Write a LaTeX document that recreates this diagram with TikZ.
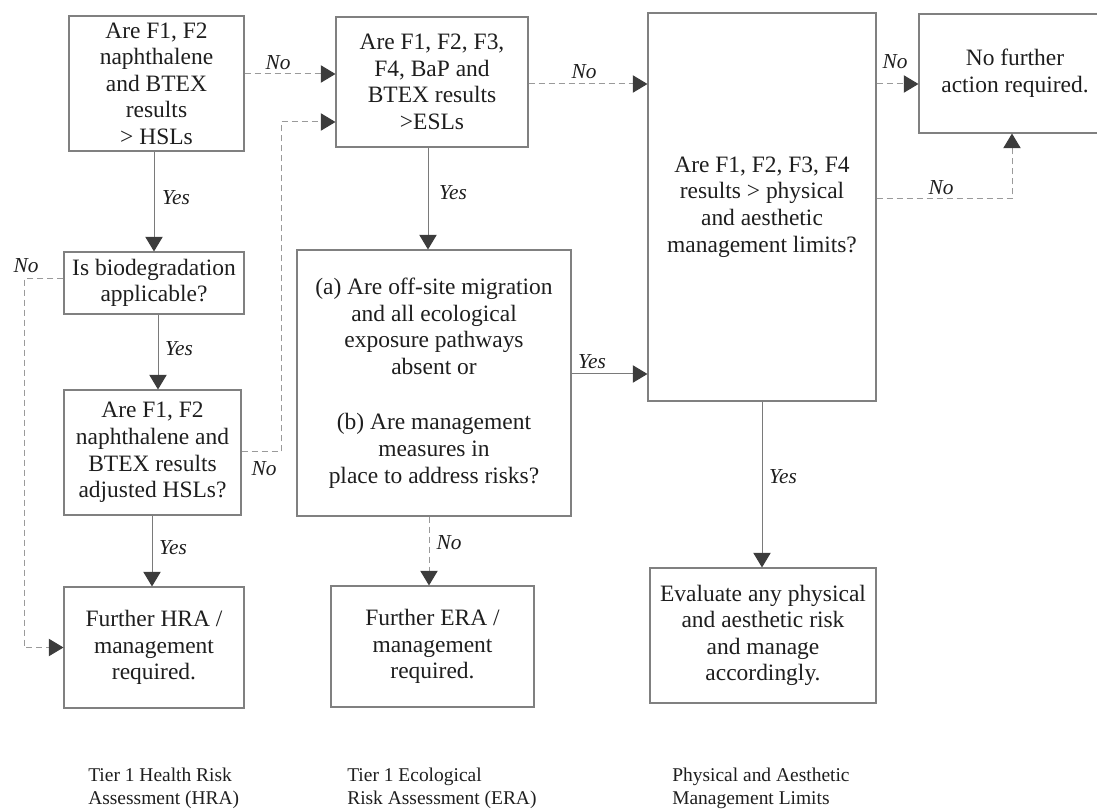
\documentclass[tikz,border=0pt]{standalone}
\usepackage{fontspec}
\setmainfont{Liberation Serif}
\usetikzlibrary{arrows.meta}
\definecolor{boxc}{HTML}{808080}
\definecolor{linec}{HTML}{7A7A7A}
\definecolor{dashc}{HTML}{9A9A9A}
\definecolor{headc}{HTML}{3C3C3C}
\definecolor{txtc}{HTML}{1E1E1E}
\begin{document}
\begin{tikzpicture}[x=0.75pt,y=-0.75pt,
  box/.style={draw=boxc,line width=0.8pt,align=center,text=txtc,inner sep=0pt,
    font=\fontsize{17.6}{19.9}\selectfont},
  sol/.style={draw=linec,line width=0.75pt,-{Triangle[width=13pt,length=11pt,color=headc]}},
  dsh/.style={draw=dashc,line width=0.75pt,dash pattern=on 4.5pt off 3pt,-{Triangle[width=13pt,length=11pt,color=headc]}},
  lab/.style={font=\itshape\fontsize{16}{18}\selectfont,text=txtc,inner sep=0pt},
  tier/.style={font=\fontsize{14.6}{17.25}\selectfont,text=txtc,align=left,anchor=west,inner sep=0pt}]
\useasboundingbox (0,0) rectangle (1097,809);

% boxes
\node[box,minimum width=131.25pt,minimum height=101.25pt] (A) at (156.5,83.5) {Are F1, F2\\naphthalene\\and BTEX\\results\\> HSLs};
\node[box,minimum width=135pt,minimum height=46.5pt] (B) at (154,283) {Is biodegradation\\applicable?};
\node[box,minimum width=132.75pt,minimum height=93.75pt] (C) at (152.5,452.5) {Are F1, F2\\naphthalene and\\BTEX results\\adjusted HSLs?};
\node[box,minimum width=135pt,minimum height=90.75pt] (D) at (154,647.5) {Further HRA /\\management\\required.};
\node[box,minimum width=144pt,minimum height=97.5pt] (E) at (432,82) {Are F1, F2, F3,\\F4, BaP and\\BTEX results\\>ESLs};
\node[box,minimum width=205.5pt,minimum height=199.5pt] (F) at (434,383) {(a) Are off-site migration\\and all ecological\\exposure pathways\\absent or\\[22pt](b) Are management\\measures in\\place to address risks?};
\node[box,minimum width=152.25pt,minimum height=90.75pt] (ERA) at (432.5,646.5) {Further ERA /\\management\\required.};
\node[box,minimum width=171pt,minimum height=291pt] (G) at (762,207) {Are F1, F2, F3, F4\\results > physical\\and aesthetic\\management limits?};
\node[box,minimum width=169.5pt,minimum height=101.25pt] (Ev) at (763,635.5) {Evaluate any physical\\and aesthetic risk\\and manage\\accordingly.};
\node[box,minimum width=144pt,minimum height=89.25pt] (H) at (1015,73.5) {No further\\action required.};

% helper coordinates
\coordinate (r74) at (0,74);
\coordinate (r84) at (0,84);
\coordinate (r122) at (0,122);
\coordinate (r199) at (0,199);
\coordinate (r279) at (0,279);
\coordinate (r374) at (0,374);
\coordinate (r452) at (0,452);
\coordinate (x24) at (24,0);
\coordinate (x152) at (152,0);
\coordinate (x154) at (154,0);
\coordinate (x158) at (158,0);
\coordinate (x281) at (281,0);
\coordinate (x428) at (428,0);
\coordinate (x429) at (429,0);
\coordinate (x762) at (762,0);
\coordinate (x1012) at (1012,0);

% solid connectors
\draw[sol] (x154 |- A.south) -- (x154 |- B.north);
\draw[sol] (x158 |- B.south) -- (x158 |- C.north);
\draw[sol] (x152 |- C.south) -- (x152 |- D.north);
\draw[sol] (x428 |- E.south) -- (x428 |- F.north);
\draw[sol] (F.east |- r374) -- (G.west |- r374);
\draw[sol] (x762 |- G.south) -- (x762 |- Ev.north);

% dashed connectors
\draw[dsh] (A.east |- r74) -- (E.west |- r74);
\draw[dsh] (C.east |- r452) -| (x281 |- r122) -- (E.west |- r122);
\draw[dsh] (B.west |- r279) -| (x24 |- D.west) -- (D.west);
\draw[dsh] (E.east |- r84) -- (G.west |- r84);
\draw[dsh] (G.east |- r84) -- (H.west |- r84);
\draw[dsh] (G.east |- r199) -| (x1012 |- H.south);
\draw[dsh] (x429 |- F.south) -- (x429 |- ERA.north);

% labels
\node[lab] (l1) at (278,63) {No};
\node[lab] (l2) at (264,469) {No};
\node[lab] (l3) at (26,266) {No};
\node[lab] (l4) at (176,198) {Yes};
\node[lab] (l5) at (179,349) {Yes};
\node[lab] (l6) at (173,548) {Yes};
\node[lab] (l7) at (453,193) {Yes};
\node[lab] (l8) at (584,72) {No};
\node[lab] (l9) at (592,362) {Yes};
\node[lab] (l10) at (449,543) {No};
\node[lab] (l11) at (895,62) {No};
\node[lab] (l12) at (941,188) {No};
\node[lab] (l13) at (783,477) {Yes};

% tier captions
\node[tier] (t1) at (88,788.5) {Tier 1 Health Risk\\Assessment (HRA)};
\node[tier] (t2) at (347,788.5) {Tier 1 Ecological\\Risk Assessment (ERA)};
\node[tier] (t3) at (672,788.5) {Physical and Aesthetic\\Management Limits};
\end{tikzpicture}
\end{document}
